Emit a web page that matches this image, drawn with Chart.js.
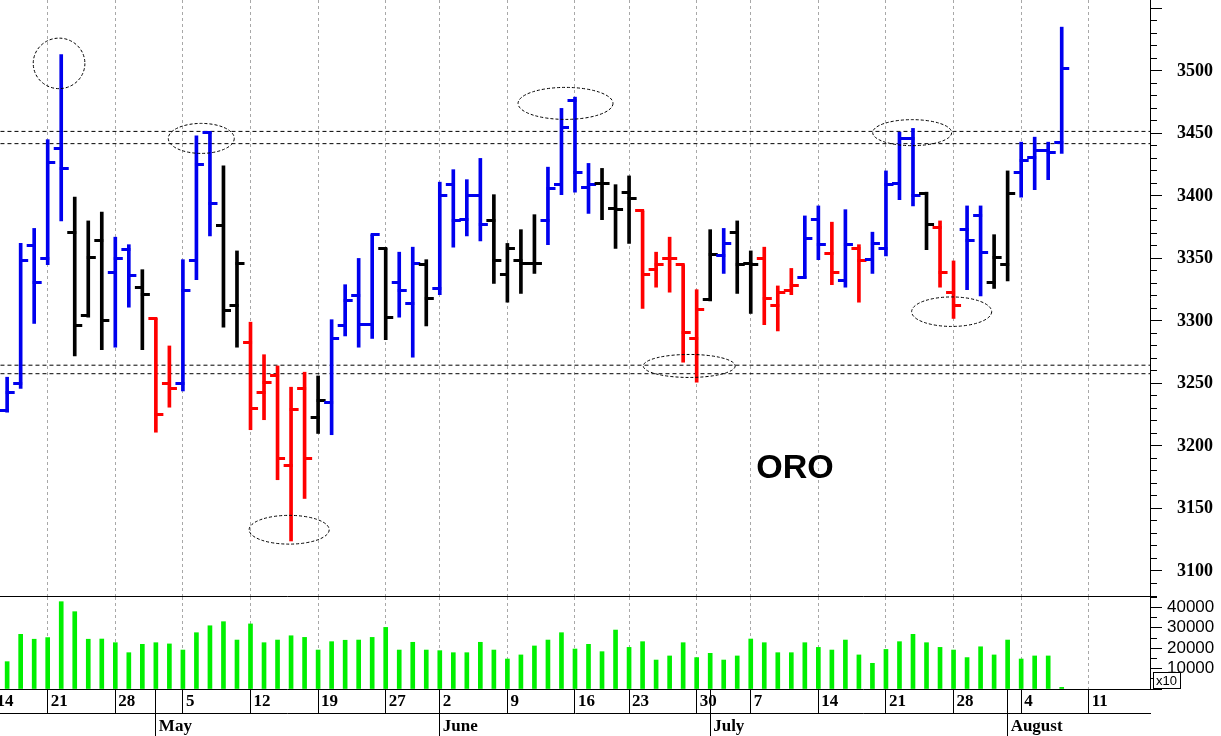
<!DOCTYPE html>
<html>
<head>
<meta charset="utf-8">
<title>ORO</title>
<script src="https://cdn.jsdelivr.net/npm/chart.js@4.4.1/dist/chart.umd.min.js"></script>
<style>
  html, body { margin: 0; padding: 0; background: #fff; }
  #wrap { position: relative; width: 1221px; height: 736px; overflow: hidden; background: #fff; }
  canvas { position: absolute; left: 0; }
  #price { top: 0; z-index: 2; }
  #volume { top: 597px; z-index: 1; }
</style>
</head>
<body>
<div id="wrap">
  <canvas id="price" width="1221" height="597"></canvas>
  <canvas id="volume" width="1221" height="139"></canvas>
</div>
<script>
// Trading sessions on the time axis (2025, MM-DD)
const sessions = [
  '04-14','04-15','04-16','04-17','04-21','04-22','04-23','04-24','04-25','04-28','04-29','04-30',
  '05-01','05-02','05-05','05-06','05-07','05-08','05-09','05-12','05-13','05-14','05-15','05-16',
  '05-19','05-20','05-21','05-22','05-23','05-27','05-28','05-29','05-30',
  '06-02','06-03','06-04','06-05','06-06','06-09','06-10','06-11','06-12','06-13','06-16','06-17',
  '06-18','06-20','06-23','06-24','06-25','06-26','06-27','06-30',
  '07-01','07-02','07-03','07-07','07-08','07-09','07-10','07-11','07-14','07-15','07-16','07-17',
  '07-18','07-21','07-22','07-23','07-24','07-25','07-28','07-29','07-30','07-31',
  '08-01','08-04','08-05','08-06','08-07','08-08','08-11','08-12','08-13','08-14','08-15'
];
const firstBar = '04-15';
const monthNames = ['January','February','March','April','May','June','July','August','September'];

// Gold daily OHLC, from 04-15 onwards
const open = [3228,3250,3360,3350,3438,3371,3304,3364,3339,3357, 3327,3302,3250,3250,3348,3451,3376,3312,3283,3243,
              3256,3184,3246,3223,3235,3296,3320,3297,3358,3331, 3314,3345,3326,3409,3381,3400,3380,3337,3348,3346,
              3380,3409,3476,3407,3410,3390,3403,3388,3341,3350, 3345,3286,3317,3352,3371,3346,3350,3312,3324,3335,
              3381,3354,3332,3358,3349,3358,3410,3446,3402,3375, 3323,3373,3384,3331,3345,3419,3431,3436,3443];
const high = [3255,3362,3374,3445,3513,3399,3380,3387,3367,3361, 3341,3302,3280,3349,3448,3451,3424,3356,3299,3273,
              3264,3247,3259,3256,3301,3329,3350,3369,3358,3355, 3359,3349,3411,3421,3413,3430,3401,3362,3373,3385,
              3423,3470,3479,3426,3422,3409,3416,3388,3355,3367, 3345,3325,3373,3374,3380,3356,3359,3328,3342,3384,
              3392,3379,3389,3361,3371,3420,3451,3454,3403,3380, 3348,3392,3392,3369,3420,3443,3447,3443,3535];
const low = [3227,3246,3298,3345,3380,3272,3303,3277,3279,3311, 3277,3211,3231,3244,3333,3368,3295,3279,3213,3221,
             3173,3124,3158,3210,3209,3288,3279,3286,3285,3303, 3271,3296,3321,3359,3368,3364,3330,3315,3322,3338,
             3361,3401,3403,3386,3381,3358,3362,3310,3327,3323, 3267,3251,3316,3338,3322,3306,3297,3292,3321,3334,
             3349,3329,3327,3315,3338,3352,3397,3392,3357,3327, 3302,3325,3320,3326,3332,3399,3405,3413,3434];
const close = [3243,3348,3331,3427,3422,3296,3351,3300,3350,3336, 3321,3225,3246,3324,3425,3394,3308,3346,3230,3251,
               3190,3229,3190,3236,3286,3316,3297,3369,3303,3324, 3346,3318,3400,3380,3400,3377,3348,3358,3346,3346,
               3406,3455,3419,3409,3410,3389,3398,3337,3345,3350, 3291,3309,3353,3362,3345,3345,3318,3323,3328,3366,
               3361,3339,3361,3348,3362,3409,3446,3400,3377,3339, 3312,3364,3355,3351,3402,3428,3436,3435,3502];
const volume = [13400,26800,24400,25200,42800,37900,24400,24500,22700,17800,
                21900,22700,22100,19100,27600,31000,33000,24000,31900,22700,
                24000,26100,25300,19100,23200,23900,24000,25300,30200,19100,
                22900,19100,18800,17800,17800,22900,19100,14700,16700,21100,
                24000,27600,19600,21900,18300,28900,20400,23200,14200,16200,
                22700,15400,17500,14200,16200,24500,22700,17800,17800,22700,
                20400,19100,24000,16700,12600,19400,23200,26800,22700,20400,
                19100,15400,20700,16700,24000,14700,16200,16200,800];
// trend signal per bar: u = up (blue), n = neutral (black), d = down (red)
const signal = ('uuuuunnnuundduuunndddddnuuuunuunuuuunnnnuuuunnndddddnunndd' +
                'duududuuuundduunnuuuuu').split('');

// support / resistance levels
const levels = [3451.6, 3441.8, 3264.6, 3257.8];
// circled highs and lows: centre (session index, price), half-width in sessions, half-height in price
const circled = [
  {at: 4.84, price: 3506, w: 1.91, h: 20.2},
  {at: 15.36, price: 3446, w: 2.44, h: 12},
  {at: 21.86, price: 3133, w: 2.96, h: 11.5},
  {at: 42.30, price: 3474, w: 3.51, h: 12.8},
  {at: 51.45, price: 3264, w: 3.40, h: 9.2},
  {at: 67.94, price: 3450.6, w: 2.92, h: 10.4},
  {at: 70.86, price: 3307.4, w: 2.96, h: 11.8}
];
const title = {text: 'ORO', at: 59.27, price: 3181.5};

// ---- styling / layout ----
const X_MIN = 0.472, X_MAX = 85.53;
const COLORS = {u: '#0000ee', n: '#000000', d: '#ff0000'};
const GRID = '#a8a8a8';
const serifBold = (size) => ({family: 'Liberation Serif', size, weight: 'bold'});
const noPad = s => { s.paddingTop = 0; s.paddingBottom = 0; s.paddingLeft = 0; s.paddingRight = 0; };

const start = sessions.indexOf(firstBar);
const xs = open.map((_, k) => start + k);
const barColor = signal.map(s => COLORS[s]);

// week and month starts from the session list
const weekStarts = [], monthStarts = [];
const dayLabel = {}, monthLabel = {};
sessions.forEach((d, i) => {
  const [m, day] = d.split('-').map(Number);
  const cur = new Date(2025, m - 1, day);
  if (i === 0) { weekStarts.push(i); dayLabel[i] = String(day); return; }
  const [pm, pd] = sessions[i - 1].split('-').map(Number);
  const prev = new Date(2025, pm - 1, pd);
  if (cur.getDay() <= prev.getDay() || cur - prev > 3 * 864e5) { weekStarts.push(i); dayLabel[i] = String(day); }
  if (m !== pm) { monthStarts.push(i); monthLabel[i] = monthNames[m - 1]; }
});
const weekSet = new Set(weekStarts);
const dayTicks = [...new Set(weekStarts.concat(monthStarts))].sort((a, b) => a - b);

function tickImage(color, side) {
  const c = document.createElement('canvas');
  c.width = 17; c.height = 3;
  const g = c.getContext('2d');
  g.fillStyle = color;
  if (side === 'open') g.fillRect(1, 0, 9, 3); else g.fillRect(7, 0, 9, 3);
  return c;
}
const openImg = {}, closeImg = {};
Object.keys(COLORS).forEach(k => { openImg[k] = tickImage(COLORS[k], 'open'); closeImg[k] = tickImage(COLORS[k], 'close'); });

const marksPlugin = {
  id: 'marks',
  afterDatasetsDraw(chart) {
    const {ctx, scales: {x, y}} = chart;
    ctx.save();
    ctx.strokeStyle = '#000';
    ctx.lineWidth = 1;
    ctx.setLineDash([3, 2]);
    circled.forEach(m => {
      const cx = x.getPixelForValue(m.at), cy = y.getPixelForValue(m.price);
      const rx = x.getPixelForValue(m.at + m.w) - cx;
      const ry = cy - y.getPixelForValue(m.price + m.h);
      ctx.beginPath();
      ctx.ellipse(cx, cy, rx, ry, 0, 0, Math.PI * 2);
      ctx.stroke();
    });
    ctx.setLineDash([]);
    ctx.fillStyle = '#000';
    ctx.font = 'bold 34px "Liberation Sans"';
    ctx.textAlign = 'center';
    ctx.textBaseline = 'middle';
    ctx.fillText(title.text, x.getPixelForValue(title.at), y.getPixelForValue(title.price));
    ctx.restore();
  }
};

const x10Plugin = {
  id: 'x10',
  afterDraw(chart) {
    const {ctx, chartArea, scales: {y}} = chart;
    const bx = Math.round(y.left) + 3, by = chartArea.bottom - 17;
    ctx.save();
    ctx.fillStyle = '#fff';
    ctx.fillRect(bx, by, 27, 17);
    ctx.strokeStyle = '#000';
    ctx.lineWidth = 1;
    ctx.strokeRect(bx + 0.5, by + 0.5, 27, 16);
    ctx.fillStyle = '#000';
    ctx.font = '13px "Liberation Sans"';
    ctx.textAlign = 'left';
    ctx.textBaseline = 'middle';
    ctx.fillText('x10', bx + 3, by + 9);
    ctx.restore();
  }
};

const common = {
  responsive: false,
  animation: false,
  events: [],
  devicePixelRatio: 1,
  layout: {padding: 0, autoPadding: false},
  plugins: {legend: {display: false}, tooltip: {enabled: false}}
};

// ---- price panel ----
new Chart(document.getElementById('price'), {
  type: 'bar',
  data: {
    datasets: [
      ...levels.map(v => ({
        type: 'line',
        data: [{x: X_MIN - 1, y: v}, {x: X_MAX + 1, y: v}],
        borderColor: '#000',
        borderWidth: 1,
        borderDash: [4, 3],
        pointRadius: 0,
        order: 3
      })),
      {
        type: 'bar',
        data: xs.map((x, k) => ({x, y: [low[k], high[k]]})),
        backgroundColor: barColor,
        borderWidth: 0,
        barThickness: 3,
        order: 2
      },
      {
        type: 'line',
        showLine: false,
        data: xs.map((x, k) => ({x, y: open[k]})),
        pointStyle: c => openImg[signal[c.dataIndex]],
        pointRadius: 3,
        order: 1
      },
      {
        type: 'line',
        showLine: false,
        data: xs.map((x, k) => ({x, y: close[k]})),
        pointStyle: c => closeImg[signal[c.dataIndex]],
        pointRadius: 3,
        order: 1
      }
    ]
  },
  options: {
    ...common,
    scales: {
      x: {
        type: 'linear', min: X_MIN, max: X_MAX, bounds: 'data', offset: false,
        afterBuildTicks: s => { s.ticks = weekStarts.map(value => ({value})); },
        afterFit: s => { s.height = 1; noPad(s); },
        ticks: {display: false, autoSkip: false},
        grid: {offset: false, color: GRID, lineWidth: 1, drawTicks: false},
        border: {display: true, color: '#000', width: 1, dash: [3, 3]}
      },
      y: {
        position: 'right', min: 3080, max: 3556.7, bounds: 'data', beginAtZero: false,
        afterFit: s => { s.width = 71; noPad(s); },
        ticks: {
          stepSize: 10, includeBounds: false, autoSkip: false, padding: 15, color: '#000',
          font: serifBold(18),
          callback: v => (Math.round(v) % 50 === 0 && v <= 3500) ? String(Math.round(v)) : ''
        },
        grid: {
          drawOnChartArea: false, tickLength: 12, tickColor: '#000', tickWidth: 1,
          tickBorderDash: c => (c.tick && Math.round(c.tick.value) % 50 === 0) ? [] : [6, 50]
        },
        border: {display: true, color: '#000', width: 1}
      }
    }
  },
  plugins: [marksPlugin]
});

// ---- volume panel + date axis ----
new Chart(document.getElementById('volume'), {
  type: 'bar',
  data: {
    datasets: [{
      data: xs.map((x, k) => ({x, y: volume[k]})),
      backgroundColor: '#00f000',
      borderWidth: 0,
      barThickness: 4
    }]
  },
  options: {
    ...common,
    scales: {
      x: {
        type: 'linear', position: 'bottom', weight: 0, min: X_MIN, max: X_MAX, bounds: 'data', offset: false,
        afterBuildTicks: s => { s.ticks = dayTicks.map(value => ({value})); },
        afterFit: s => { s.height = 24; noPad(s); },
        ticks: {
          autoSkip: false, maxRotation: 0, minRotation: 0, align: 'start', labelOffset: 3, padding: -22,
          color: '#000', font: serifBold(17),
          callback: v => dayLabel[v] || ''
        },
        grid: {
          offset: false,
          color: c => (c.tick && weekSet.has(c.tick.value)) ? GRID : 'rgba(0,0,0,0)',
          tickLength: 24, tickColor: '#000', tickWidth: 1, tickBorderDash: []
        },
        border: {display: true, color: '#000', width: 1, dash: [3, 3]}
      },
      month: {
        type: 'linear', axis: 'x', position: 'bottom', weight: 1, min: X_MIN, max: X_MAX, bounds: 'data', offset: false,
        afterBuildTicks: s => { s.ticks = monthStarts.map(value => ({value})); },
        afterFit: s => { s.height = 23; noPad(s); },
        ticks: {
          autoSkip: false, maxRotation: 0, minRotation: 0, align: 'start', labelOffset: 3, padding: -20,
          color: '#000', font: serifBold(17),
          callback: v => monthLabel[v] || ''
        },
        grid: {offset: false, drawOnChartArea: false, tickLength: 23, tickColor: '#000', tickWidth: 1},
        border: {display: true, color: '#000', width: 1}
      },
      y: {
        position: 'right', min: 0, suggestedMax: 45100, bounds: 'data', beginAtZero: true,
        afterFit: s => { s.width = 71; noPad(s); },
        ticks: {
          stepSize: 5000, includeBounds: false, autoSkip: false, padding: 5, color: '#000',
          font: {family: 'Liberation Sans', size: 17},
          callback: v => (v > 0 && Math.round(v) % 10000 === 0) ? String(Math.round(v)) : ''
        },
        grid: {
          drawOnChartArea: false, tickLength: 12, tickColor: '#000', tickWidth: 1,
          tickBorderDash: c => (c.tick && Math.round(c.tick.value) % 10000 === 0) ? [] : [6, 50]
        },
        border: {display: true, color: '#000', width: 1}
      }
    }
  },
  plugins: [x10Plugin]
});
</script>
</body>
</html>
